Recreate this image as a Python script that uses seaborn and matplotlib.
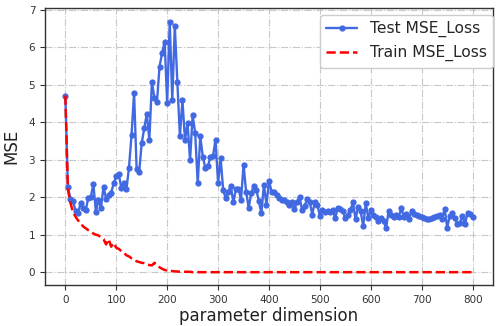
import numpy as np
import pandas as pd
import matplotlib
matplotlib.use("Agg")
import matplotlib.pyplot as plt
import seaborn as sns

# parameter dimension (x axis)
dims = list(range(0, 801, 5))

test_mse = [
    4.71, 2.27, 1.96, 1.91, 1.62, 1.58, 1.85, 1.72, 1.65, 1.98,
    2.00, 2.35, 1.61, 1.93, 1.71, 2.28, 1.96, 2.07, 2.12, 2.37,
    2.56, 2.61, 2.24, 2.39, 2.21, 2.79, 3.66, 4.77, 2.75, 2.68,
    3.44, 3.84, 4.22, 3.53, 5.07, 4.65, 4.55, 5.48, 5.84, 6.15,
    4.51, 6.68, 4.59, 6.57, 5.06, 3.63, 4.58, 3.53, 3.97, 2.99,
    4.19, 3.71, 2.37, 3.62, 3.08, 2.77, 2.82, 3.08, 3.10, 3.53,
    2.37, 3.04, 2.19, 1.97, 2.15, 2.30, 1.86, 2.21, 2.23, 1.93,
    2.86, 2.15, 1.72, 2.10, 2.30, 2.20, 1.90, 1.57, 2.33, 1.79,
    2.44, 2.15, 2.15, 2.06, 1.98, 1.93, 1.93, 1.88, 1.79, 1.88,
    1.68, 1.88, 2.00, 1.66, 1.77, 1.95, 1.88, 1.53, 1.88, 1.79,
    1.50, 1.66, 1.60, 1.64, 1.60, 1.66, 1.44, 1.71, 1.69, 1.62,
    1.44, 1.53, 1.66, 1.86, 1.41, 1.75, 1.62, 1.23, 1.84, 1.44,
    1.66, 1.53, 1.48, 1.37, 1.44, 1.37, 1.17, 1.64, 1.53, 1.48,
    1.53, 1.48, 1.71, 1.46, 1.55, 1.41, 1.64, 1.55, 1.52, 1.50,
    1.46, 1.44, 1.41, 1.41, 1.44, 1.46, 1.50, 1.52, 1.41, 1.69,
    1.19, 1.50, 1.57, 1.44, 1.28, 1.31, 1.50, 1.28, 1.59, 1.55,
    1.47,
]

train_mse = [
    4.71, 2.20, 1.85, 1.60, 1.48, 1.38, 1.30, 1.22, 1.17, 1.12,
    1.08, 1.03, 1.00, 0.98, 0.93, 0.88, 0.74, 0.88, 0.68, 0.78,
    0.65, 0.62, 0.56, 0.52, 0.45, 0.42, 0.37, 0.33, 0.29, 0.27,
    0.25, 0.24, 0.21, 0.19, 0.18, 0.25, 0.19, 0.13, 0.09, 0.06,
    0.04, 0.03, 0.03, 0.02, 0.02, 0.01, 0.01, 0.01, 0.01, 0.01,
    0.00, 0.00, 0.00, 0.00, 0.00, 0.00, 0.00, 0.00, 0.00, 0.00,
    0.00, 0.00, 0.00, 0.00, 0.00, 0.00, 0.00, 0.00, 0.00, 0.00,
    0.00, 0.00, 0.00, 0.00, 0.00, 0.00, 0.00, 0.00, 0.00, 0.00,
    0.00, 0.00, 0.00, 0.00, 0.00, 0.00, 0.00, 0.00, 0.00, 0.00,
    0.00, 0.00, 0.00, 0.00, 0.00, 0.00, 0.00, 0.00, 0.00, 0.00,
    0.00, 0.00, 0.00, 0.00, 0.00, 0.00, 0.00, 0.00, 0.00, 0.00,
    0.00, 0.00, 0.00, 0.00, 0.00, 0.00, 0.00, 0.00, 0.00, 0.00,
    0.00, 0.00, 0.00, 0.00, 0.00, 0.00, 0.00, 0.00, 0.00, 0.00,
    0.00, 0.00, 0.00, 0.00, 0.00, 0.00, 0.00, 0.00, 0.00, 0.00,
    0.00, 0.00, 0.00, 0.00, 0.00, 0.00, 0.00, 0.00, 0.00, 0.00,
    0.00, 0.00, 0.00, 0.00, 0.00, 0.00, 0.00, 0.00, 0.00, 0.00,
    0.00,
]

xticks = [0, 100, 200, 300, 400, 500, 600, 700, 800]
yticks = [0, 1, 2, 3, 4, 5, 6, 7]

sns.set_theme(style="ticks")
plt.rcParams['font.family'] = ['DejaVu Sans']

df = pd.DataFrame({"dim": dims, "test": test_mse, "train": train_mse})

fig = plt.figure(figsize=(4.97, 3.26), dpi=100)
ax = fig.add_axes([0.0905, 0.126, 0.9015, 0.849])

sns.lineplot(data=df, x="dim", y="test", ax=ax, color="royalblue",
             marker="o", markersize=3.6, markeredgewidth=0.9,
             markeredgecolor="royalblue", linewidth=1.7,
             label="Test MSE_Loss")
sns.lineplot(data=df, x="dim", y="train", ax=ax, color="red",
             linestyle="--", linewidth=1.8, label="Train MSE_Loss")

ax.set_xticks(xticks)
ax.set_yticks(yticks)
ax.set_xlim(-40, 840)
ax.set_ylim(-0.34, 7.04)
ax.grid(True, linestyle="-.", color="#c8c8c8", linewidth=0.8)
ax.set_axisbelow(True)
for s in ax.spines.values():
    s.set_visible(True)
    s.set_color("#333333")
    s.set_linewidth(1.0)
ax.tick_params(axis="both", labelsize=7.5, length=3.5, width=0.8,
               colors="#333333", direction="out")
ax.set_xlabel("parameter dimension", fontsize=12, color="#222222", labelpad=2)
ax.set_ylabel("MSE", fontsize=12, color="#222222", labelpad=6)

leg = ax.legend(loc="upper right", bbox_to_anchor=(1.0, 0.975), borderaxespad=0.0,
                fontsize=11.2, frameon=True, fancybox=True, framealpha=1.0,
                handlelength=2.0)
leg.get_frame().set_edgecolor("#cccccc")

fig.savefig("out.png", dpi=100)
